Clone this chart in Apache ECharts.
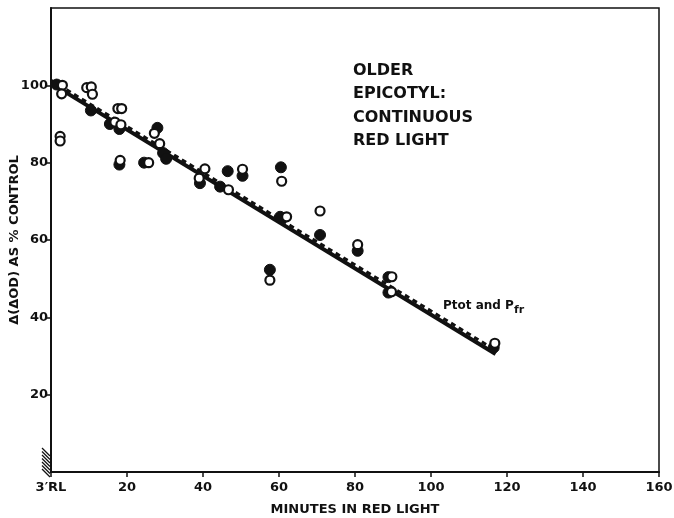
<!DOCTYPE html>
<html>
<head>
<meta charset="utf-8">
<script src="https://cdn.jsdelivr.net/npm/echarts@6/dist/echarts.min.js"></script>
<style>
  html, body { margin: 0; padding: 0; background: #fff; }
  #chart { width: 674px; height: 518px; }
</style>
</head>
<body>
<div id="chart"></div>
<script>
// minutes in red light vs delta(delta OD) as % of control
const filledPts = [
  [1.5, 100.2], [10.5, 93.5], [15.5, 90], [18, 88.7], [18, 79.5],
  [24.5, 80], [28, 89], [29.5, 82.5], [30.3, 81], [39.2, 74.7],
  [44.5, 73.8], [46.5, 77.8], [50.4, 76.6], [57.6, 52.3], [60.5, 78.8],
  [60.3, 66], [70.8, 61.3], [80.7, 57.2], [88.8, 50.4], [88.8, 46.4],
  [116.5, 32.2]
];
const openPts = [
  [3, 100], [2.8, 97.8], [2.4, 86.8], [2.4, 85.6], [9.4, 99.4],
  [10.6, 99.6], [10.9, 97.7], [17.6, 94], [18.6, 94], [16.8, 90.5],
  [18.4, 89.8], [18.2, 80.6], [25.7, 80], [27.2, 87.6], [28.6, 84.9],
  [39, 76], [40.5, 78.4], [46.7, 73], [50.4, 78.3], [60.7, 75.2],
  [62, 66], [70.8, 67.5], [80.7, 58.8], [89.7, 50.5], [89.6, 46.6],
  [116.8, 33.3], [57.6, 49.6]
];
// fitted lines (Ptot solid, Pfr dashed)
const solidLine = [[0, 100.5], [117, 30.5]];
const dashedLine = [[0, 101.3], [116.5, 31.8]];

const xTicks = [0, 20, 40, 60, 80, 100, 120, 140, 160];
const yTicks = [20, 40, 60, 80, 100];

const ink = '#111';
const font = '"DejaVu Sans", sans-serif';

const chart = echarts.init(document.getElementById('chart'));

const option = {
  backgroundColor: '#fff',
  animation: false,
  grid: {
    left: 51, right: 15, top: 8, bottom: 46,
    outerBoundsMode: 'none', containLabel: false,
    show: true, borderColor: ink, borderWidth: 1.5, backgroundColor: 'transparent'
  },
  xAxis: {
    type: 'value', min: 0, max: 160, interval: 20,
    name: 'MINUTES IN RED LIGHT', nameLocation: 'middle', nameGap: 31,
    nameMoveOverlap: false,
    nameTextStyle: { color: ink, fontFamily: font, fontSize: 13, fontWeight: 'bold' },
    axisLine: { lineStyle: { color: ink, width: 2 } },
    axisTick: { length: 5, lineStyle: { color: ink, width: 1.5 } },
    axisLabel: {
      color: ink, fontFamily: font, fontSize: 13, margin: 9, fontWeight: 'bold',
      formatter: v => (v === 0 ? '3\u2032RL' : (xTicks.includes(v) ? String(v) : ''))
    },
    splitLine: { show: false }
  },
  yAxis: {
    type: 'value', min: 0, max: 120, interval: 20,
    name: '\u0394(\u0394OD) AS % CONTROL', nameLocation: 'middle', nameGap: 30,
    nameMoveOverlap: false,
    nameTextStyle: { color: ink, fontFamily: font, fontSize: 13, fontWeight: 'bold' },
    axisLine: { lineStyle: { color: ink, width: 2 } },
    axisTick: {
      length: 6, lineStyle: { color: ink, width: 1.5 },
      customValues: yTicks
    },
    axisLabel: {
      color: ink, fontFamily: font, fontSize: 13, margin: 3, fontWeight: 'bold',
      customValues: yTicks
    },
    splitLine: { show: false }
  },
  series: [
    {
      type: 'line', data: solidLine, symbol: 'none',
      lineStyle: { color: ink, width: 4 }, z: 2
    },
    {
      type: 'line', data: dashedLine, symbol: 'none',
      lineStyle: { color: ink, width: 3, type: [5, 4] }, z: 2
    },
    {
      type: 'scatter', data: filledPts, symbol: 'circle', symbolSize: 11,
      itemStyle: { color: ink, borderColor: ink, borderWidth: 1, opacity: 1 }, z: 3
    },
    {
      type: 'scatter', data: openPts, symbol: 'circle', symbolSize: 9,
      itemStyle: { color: '#fff', borderColor: ink, borderWidth: 2.2, opacity: 1 }, z: 4
    }
  ],
  graphic: [
    {
      type: 'text', left: 353, top: 59,
      style: {
        text: 'OLDER\nEPICOTYL:\nCONTINUOUS\nRED LIGHT',
        fill: ink, font: 'bold 16px ' + font, lineHeight: 23.5
      }
    },
    {
      type: 'text', left: 443, top: 300,
      style: {
        text: '{a|Ptot and P}{b|fr}',
        rich: {
          a: { fill: ink, fontFamily: font, fontSize: 12, fontWeight: 'bold' },
          b: { fill: ink, fontFamily: font, fontSize: 11, fontWeight: 'bold', padding: [8, 0, 0, 0] }
        }
      }
    }
  ]
};

chart.setOption(option);

// hatching beside the origin ("3' RL" marker)
const origin = chart.convertToPixel({ gridIndex: 0 }, [0, 0]);
const hatch = [];
for (let i = 0; i < 7; i++) {
  const y = origin[1] - 24 + i * 3.5;
  hatch.push({
    type: 'line',
    shape: { x1: origin[0] - 9, y1: y, x2: origin[0] - 1, y2: y + 8 },
    style: { stroke: ink, lineWidth: 1.2 },
    silent: true
  });
}
chart.setOption({ graphic: option.graphic.concat(hatch) });
</script>
</body>
</html>
